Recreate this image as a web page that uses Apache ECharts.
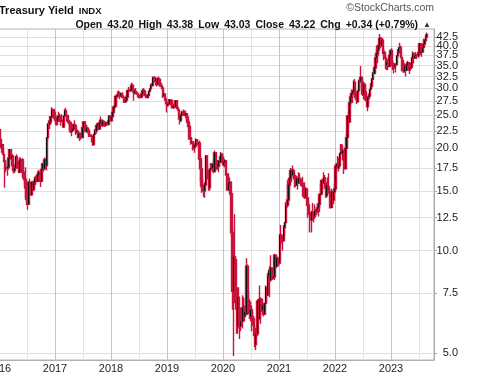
<!DOCTYPE html>
<html>
<head>
<meta charset="utf-8">
<script src="https://cdn.jsdelivr.net/npm/echarts@6/dist/echarts.min.js"></script>
<style>
  html, body { margin: 0; padding: 0; background: #fff; }
  #chart { width: 480px; height: 376px; }
</style>
</head>
<body>
<div id="chart"></div>
<script>
// weekly bars, [close, high, low], week ending on Friday, first week ends 2016-01-08
const firstOpen = 22.7;
const w2016 = [
  [21.2,22.7,21.1],[20.3,21.5,20.0],[20.5,20.8,19.4],[19.2,20.6,19.1],[18.4,19.8,18.2],[17.4,18.6,15.3],
  [17.5,18.4,17.0],[17.6,18.1,16.6],[18.7,18.9,17.3],[19.8,19.9,18.5],[18.7,19.9,18.5],[19.0,19.4,18.6],
  [17.8,19.2,17.6],[17.2,18.1,16.9],[17.5,17.9,16.9],[18.9,19.0,17.5],[18.3,19.2,18.1],[17.8,18.6,17.4],
  [17.0,17.9,16.9],[18.4,18.8,17.0],[18.5,18.8,18.1],[17.0,18.7,16.9],[16.4,17.2,16.2],[16.2,16.7,15.2],
  [15.7,17.6,14.1],[14.4,15.7,13.9],[13.7,14.7,13.2],[15.9,16.0,13.7],[15.7,16.3,15.3],[14.6,15.8,14.5],
  [15.9,16.0,14.5],[15.1,16.0,14.9],[15.8,16.1,15.0],[16.3,16.5,15.3],[16.0,16.6,15.6],[16.7,16.8,15.9],
  [17.0,17.3,16.5],[16.2,17.1,16.1],[16.0,16.3,15.4],[17.3,17.5,16.0],[18.0,18.1,17.1],[17.4,18.2,17.1],
  [18.5,18.8,17.4],[17.8,18.7,17.6],[21.5,21.5,17.2],[23.6,23.7,21.0],[23.6,24.2,22.9],[23.9,24.9,22.8],
  [24.7,24.9,23.4],[26.0,26.4,24.7],[25.5,26.0,25.1],[24.5,25.8,24.4]
];
const w2017 = [
  [24.2,25.0,23.4],[24.0,24.2,23.3],[24.7,25.0,23.4],[24.9,25.6,24.3],[24.9,25.3,23.9],[24.1,24.9,23.3],
  [24.2,25.2,23.9],[23.1,24.3,23.1],[24.9,25.0,23.2],[25.8,26.1,24.7],[25.0,26.3,24.8],[24.1,25.0,23.9],
  [23.9,24.2,23.5],[23.8,24.0,22.6],[22.4,23.8,22.2],[22.5,22.7,21.7],[22.8,23.4,22.4],[23.5,23.6,22.5],
  [23.3,24.2,23.1],[22.3,23.4,21.9],[22.5,22.9,22.1],[21.6,22.5,21.4],[22.1,22.3,21.4],[21.6,22.3,21.0],
  [21.5,21.9,21.2],[23.0,23.1,21.4],[23.9,23.9,22.9],[23.3,24.0,22.8],[22.4,23.4,22.3],[22.9,23.4,22.4],
  [22.6,23.1,22.1],[21.9,22.7,21.6],[21.9,22.4,21.6],[21.7,22.0,21.6],[21.6,21.9,20.8],[20.5,21.3,20.3],
  [22.0,22.1,20.5],[22.5,22.8,22.0],[23.3,23.4,22.1],[23.6,23.8,23.1],[22.8,23.7,22.7],[23.8,23.9,22.8],
  [24.2,24.8,23.6],[23.4,24.3,23.2],[24.0,24.1,23.1],[23.4,24.2,23.2],[23.4,23.6,23.1],[23.7,24.0,23.2],
  [23.8,23.9,23.3],[23.5,24.2,23.4],[24.9,24.9,23.5],[24.1,24.9,24.0]
];
const w2018 = [
  [24.8,24.9,24.0],[25.5,25.9,24.7],[26.4,26.4,25.2],[26.6,26.8,26.1],[28.4,28.5,26.6],[28.5,28.8,26.9],
  [28.7,29.4,28.1],[28.7,29.6,28.6],[28.6,29.4,27.9],[29.0,29.1,28.3],[28.5,29.0,28.1],[28.2,29.2,28.1],
  [27.4,28.5,27.2],[27.7,28.2,27.2],[28.3,28.7,27.5],[29.6,29.7,28.2],[29.6,30.3,29.3],[29.5,29.9,29.3],
  [29.7,30.3,29.4],[30.6,31.2,29.8],[29.3,31.0,29.2],[29.0,29.6,27.6],[29.4,29.9,29.0],[29.2,30.1,29.1],
  [28.9,29.4,28.8],[28.6,29.0,28.2],[28.2,28.7,28.1],[28.3,28.6,28.2],[28.9,29.0,28.2],[29.5,29.9,28.9],
  [29.5,30.1,29.4],[28.7,29.8,28.6],[28.6,29.0,28.4],[28.2,28.7,28.1],[28.6,28.9,28.1],[29.4,29.5,28.6],
  [29.9,30.0,29.3],[30.7,30.9,29.9],[30.6,31.1,30.4],[32.3,32.5,30.6],[31.6,32.6,31.3],[32.0,32.1,31.4],
  [30.8,32.2,30.4],[32.1,32.2,30.9],[31.9,32.5,31.7],[30.8,31.9,30.6],[30.5,31.0,30.3],[30.1,31.1,29.9],
  [28.5,30.0,28.1],[28.9,29.2,28.3],[27.9,29.0,27.6],[27.2,28.3,26.9]
];
const w2019 = [
  [26.7,27.2,25.5],[27.0,27.4,26.5],[27.8,27.9,26.8],[27.6,27.9,27.1],[26.9,27.6,26.3],[26.3,27.2,26.2],
  [26.6,26.9,26.3],[26.5,26.9,26.3],[27.6,27.6,26.4],[26.3,27.6,26.1],[25.9,26.6,25.8],[24.4,26.1,24.3],
  [24.1,24.5,23.5],[25.0,25.3,24.0],[25.6,25.8,24.7],[25.6,26.0,25.5],[25.0,25.9,24.9],[25.3,25.7,24.9],
  [24.7,25.4,24.3],[23.9,24.8,23.6],[23.2,24.3,22.9],[21.3,23.4,21.2],[20.8,21.5,20.5],[20.9,21.6,20.6],
  [20.6,20.9,19.7],[20.1,20.8,19.8],[20.4,20.5,19.4],[21.2,21.4,20.3],[20.6,21.1,20.2],[20.7,20.9,20.1],
  [18.6,21.1,18.4],[17.4,18.6,15.9],[15.5,17.5,14.8],[15.3,16.3,15.0],[15.0,15.6,14.4],[15.6,15.9,14.3],
  [19.0,19.1,15.5],[17.2,19.1,17.1],[16.9,18.0,16.2],[15.3,17.3,15.0],[17.3,17.5,15.0],[17.5,18.1,17.2],
  [18.0,18.1,17.3],[17.1,18.6,16.9],[19.4,19.7,17.0],[18.3,19.4,17.7],[17.7,18.3,17.3],[17.8,17.9,17.3],
  [18.4,18.4,17.0],[18.2,19.0,17.6],[19.2,19.5,18.3],[18.8,19.4,18.7]
];
const w2020 = [
  [17.9,19.3,17.8],[18.2,18.9,17.7],[18.4,18.6,17.6],[16.8,18.4,16.6],[15.1,16.9,15.0],[15.8,16.6,15.0],
  [15.9,16.4,15.5],[14.7,16.0,14.5],[11.3,14.0,11.0],[7.6,11.8,6.7],[9.6,9.8,4.9],[9.4,12.8,7.0],
  [6.8,9.5,6.7],[6.0,7.0,5.7],[7.3,7.8,5.7],[6.5,7.8,5.9],[6.0,6.6,5.5],[6.2,6.8,5.8],
  [6.8,7.4,5.9],[6.4,7.3,6.2],[6.6,6.9,6.2],[6.5,7.2,6.4],[9.0,9.5,6.5],[7.0,9.1,6.6],
  [7.0,7.6,6.5],[6.4,7.2,6.3],[6.7,7.1,6.2],[6.4,6.9,5.8],[6.3,6.6,6.0],[5.9,6.4,5.6],
  [5.3,6.0,5.2],[5.7,5.8,5.1],[7.1,7.2,5.6],[6.3,7.1,6.2],[7.2,7.9,6.3],[7.2,7.3,6.1],
  [6.7,7.2,6.6],[6.9,7.1,6.6],[6.5,7.0,6.4],[7.0,7.0,6.5],[7.8,7.9,6.9],[7.4,7.8,7.1],
  [8.4,8.6,7.4],[8.7,8.8,7.6],[8.2,9.0,7.3],[8.9,9.7,8.1],[8.3,8.9,8.2],[8.4,8.9,8.3],
  [9.7,9.8,8.2],[9.0,9.7,8.9],[9.5,9.6,8.9],[9.4,9.6,9.1]
];
const w2021 = [
  [9.2,9.5,9.0],[11.1,11.2,9.1],[10.9,11.9,10.6],[10.9,11.2,10.5],[10.7,11.1,10.0],[11.7,11.9,10.8],
  [12.1,12.1,11.1],[13.6,13.9,12.0],[14.1,16.1,13.4],[15.6,16.3,13.7],[16.3,16.4,15.1],[17.2,17.5,15.8],
  [16.7,17.4,15.9],[17.2,17.8,16.9],[16.6,17.4,16.2],[15.8,16.9,15.3],[15.6,16.3,15.4],[16.3,16.6,15.5],
  [15.8,16.5,15.1],[16.3,17.0,15.8],[16.2,16.9,16.0],[15.8,16.2,15.5],[15.5,16.5,15.5],[14.5,15.5,14.3],
  [14.4,15.9,14.2],[15.2,15.4,14.3],[14.3,15.1,14.2],[13.6,14.2,12.5],[12.9,13.9,12.7],[12.8,13.0,11.3],
  [12.3,13.0,12.3],[13.0,13.1,11.3],[12.8,13.8,12.5],[12.6,12.9,12.1],[13.1,13.7,12.4],[13.2,13.4,12.7],
  [13.4,13.8,12.9],[13.7,13.8,12.6],[14.6,14.7,13.0],[14.7,15.7,14.6],[16.1,16.1,14.6],[15.8,16.3,15.1],
  [16.4,17.0,15.7],[15.5,16.7,15.2],[14.5,16.0,14.3],[15.6,15.9,14.3],[15.4,16.4,15.3],[14.8,16.9,14.7],
  [13.4,15.2,13.3],[14.9,15.2,13.4],[14.1,15.0,13.8],[14.9,15.0,13.7],[15.2,15.7,14.7]
];
const w2022 = [
  [17.7,18.0,15.1],[17.9,18.1,17.0],[17.5,19.0,17.4],[17.8,18.8,17.1],[19.3,19.4,17.6],[19.5,20.6,19.0],
  [19.3,20.6,19.2],[19.7,20.5,18.4],[17.4,19.2,16.8],[20.0,20.1,17.4],[21.5,22.2,19.9],[24.9,25.0,21.4],
  [23.9,25.6,23.1],[27.2,27.3,23.9],[28.3,28.8,26.6],[29.0,29.8,28.0],[29.4,29.8,27.2],[31.3,31.7,28.7],
  [29.3,32.0,28.1],[27.9,30.0,27.7],[27.4,28.8,27.0],[29.5,29.6,27.3],[31.6,31.8,28.9],[32.3,34.9,31.4],
  [31.3,32.6,30.0],[28.9,31.3,28.5],[30.8,31.2,27.9],[29.3,31.2,28.6],[27.8,30.6,27.5],[26.5,28.7,26.4],
  [28.3,28.4,25.7],[28.5,29.0,27.1],[29.8,29.9,27.9],[30.4,31.1,29.7],[31.9,32.2,31.0],[33.2,33.6,31.7],
  [34.5,35.0,33.2],[36.9,37.9,34.8],[38.0,40.1,36.6],[38.9,39.1,35.6],[40.1,40.2,37.5],[42.1,43.4,39.9],
  [40.1,42.6,39.4],[41.6,42.3,39.8],[38.2,42.2,37.9],[38.3,39.4,36.3],[36.8,38.7,36.6],[35.1,37.5,34.2],
  [35.8,36.1,33.9],[34.8,36.6,34.0],[37.5,37.6,35.2],[38.8,38.9,37.3]
];
const w2023 = [
  [35.6,39.4,35.5],[35.1,36.2,34.0],[34.8,35.6,33.2],[35.2,35.6,34.2],[35.3,35.6,33.4],[37.4,37.6,35.1],
  [38.2,39.2,36.9],[39.5,39.7,37.9],[39.6,40.9,39.0],[37.0,40.1,36.9],[34.3,36.9,33.7],[33.8,36.4,33.3],
  [34.9,35.6,33.4],[33.9,34.9,32.5],[35.2,35.3,33.9],[35.7,36.2,34.9],[34.2,35.8,33.8],[34.4,35.8,33.1],
  [34.6,35.7,33.8],[36.9,37.2,34.5],[38.0,38.6,36.8],[36.9,38.1,35.5],[37.4,37.9,36.6],[37.6,38.4,36.6],
  [37.4,37.9,36.6],[38.2,38.8,36.9],[40.6,40.9,38.1],[38.3,40.4,37.6],[38.4,38.8,37.2],[39.6,40.1,38.3],
  [40.5,42.0,39.9],[41.5,41.9,39.9],[42.5,43.3,41.5],[43.2,43.8,42.5]
];
// y ticks, split in two label sets so that neighbouring labels are not dropped
const yTicksA = [5, 10, 15, 20, 25, 30, 35, 40];
const yTicksB = [7.5, 12.5, 17.5, 22.5, 27.5, 32.5, 37.5, 42.5];
const yMin = 4.77, yMax = 44.86;
const xMin = 2016, xMax = 2023.768;

const weeks = [].concat(w2016, w2017, w2018, w2019, w2020, w2021, w2022, w2023);
const DAY = 86400000;
function decYear(t) {
  const y = new Date(t).getUTCFullYear();
  const s = Date.UTC(y, 0, 1), e = Date.UTC(y + 1, 0, 1);
  return y + (t - s) / (e - s);
}
const candles = weeks.map(function (w, i) {
  const open = i === 0 ? firstOpen : weeks[i - 1][0];
  const close = w[0];
  const high = Math.max(w[1], open, close);
  const low = Math.min(w[2], open, close);
  const x = decYear(Date.UTC(2016, 0, 8) + i * 7 * DAY - 2 * DAY);
  return [x, Math.log10(open), Math.log10(close), Math.log10(low), Math.log10(high)];
});
// black bodies for the weeks that closed above the week before
const upBodies = candles.filter(function (c) { return c[2] > c[1]; })
  .map(function (c) { return [c[0], c[1], c[2], c[1], c[2]]; });
const logA = yTicksA.map(function (v) { return Math.log10(v); });
const logB = yTicksB.map(function (v) { return Math.log10(v); });
const logAll = logA.concat(logB);

const RED = '#c8143c';
const chart = echarts.init(document.getElementById('chart'), null, { renderer: 'canvas' });
const font = '"Liberation Sans", Arial, sans-serif';
const yLabel = {
  margin: 24, align: 'right', hideOverlap: false,
  showMinLabel: true, showMaxLabel: true,
  fontSize: 11, color: '#222', fontFamily: font,
  formatter: function (v) { return Math.pow(10, v).toFixed(1); }
};
chart.setOption({
  animation: false,
  backgroundColor: '#fff',
  textStyle: { fontFamily: font },
  title: [
    {
      left: -1, top: 2, padding: 0,
      text: '{a|Treasury Yield} {b|INDX}',
      textStyle: { rich: {
        a: { fontSize: 11, color: '#111', fontFamily: font },
        b: { fontSize: 9.5, color: '#111', fontFamily: font }
      } }
    },
    {
      right: 46, top: 3, padding: 0,
      text: '\u00a9StockCharts.com',
      textStyle: { fontSize: 10.5, color: '#555', fontWeight: 'normal', fontFamily: font }
    },
    {
      right: 49, top: 16, padding: 0,
      text: '{k|Open} {v|43.20} {k|High} {v|43.38} {k|Low} {v|43.03} {k|Close} {v|43.22} {k|Chg} {v|+0.34 (+0.79%)} {t|\u25b2}',
      textStyle: { rich: {
        k: { fontSize: 10.5, fontWeight: 'bold', color: '#111', fontFamily: font },
        v: { fontSize: 10.5, color: '#111', fontFamily: font },
        t: { fontSize: 8, color: '#333', fontFamily: font }
      } }
    }
  ],
  grid: {
    left: -1, right: 46, top: 29, bottom: 16,
    outerBoundsMode: 'none', containLabel: false,
    show: true, borderColor: '#b0b0b0', borderWidth: 1
  },
  xAxis: {
    type: 'value',
    min: xMin, max: xMax, interval: 0.5,
    axisLine: { show: true, lineStyle: { color: '#b0b0b0' } },
    axisTick: { show: false },
    axisLabel: {
      margin: 3, fontSize: 11, color: '#222', fontFamily: font,
      showMinLabel: true, showMaxLabel: false, hideOverlap: false,
      formatter: function (v) { return Math.abs(v - Math.round(v)) < 1e-6 ? String(Math.round(v)) : ''; }
    },
    splitLine: { show: true, lineStyle: { color: ['#c4c4c4', '#e4e4e4'], width: 1 } }
  },
  yAxis: [
    {
      type: 'value',
      position: 'right',
      min: Math.log10(yMin), max: Math.log10(yMax),
      axisLine: { show: true, lineStyle: { color: '#a8a8a8' } },
      axisTick: { show: true, customValues: logAll, length: 3, lineStyle: { color: '#a8a8a8' } },
      axisLabel: Object.assign({ customValues: logA }, yLabel),
      splitLine: { show: true, lineStyle: { color: '#e0e0e0', width: 1 } }
    },
    {
      type: 'value',
      position: 'right',
      min: Math.log10(yMin), max: Math.log10(yMax),
      axisLine: { show: false },
      axisTick: { show: false, customValues: logB },
      axisLabel: Object.assign({ customValues: logB }, yLabel),
      splitLine: { show: false }
    }
  ],
  series: [
    {
      type: 'candlestick',
      data: candles,
      barWidth: 2,
      itemStyle: {
        color: RED, color0: RED,
        borderColor: RED, borderColor0: RED,
        borderWidth: 1.4
      }
    },
    {
      type: 'candlestick',
      data: upBodies,
      barWidth: 1,
      itemStyle: {
        color: '#111', color0: '#111',
        borderColor: '#111', borderColor0: '#111',
        borderWidth: 1
      }
    }
  ]
});
</script>
</body>
</html>
